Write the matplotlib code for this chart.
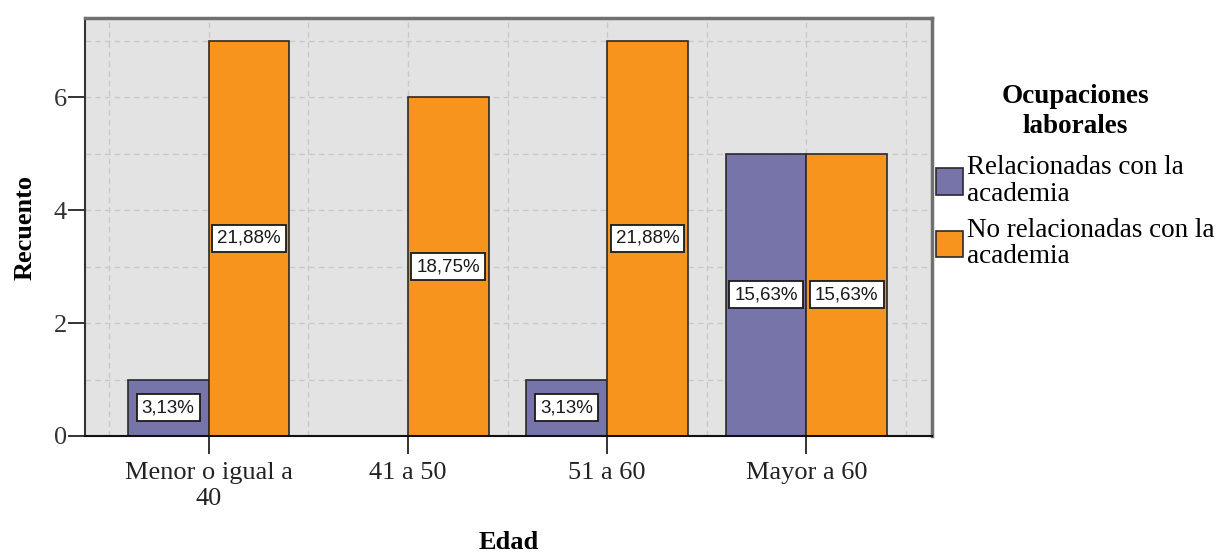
import matplotlib
matplotlib.use("Agg")
import matplotlib.pyplot as plt
from matplotlib.patches import Patch
from decimal import Decimal, ROUND_HALF_UP
import numpy as np

# Age groups and counts per occupation type
categories = ["Menor o igual a\n40", "41 a 50", "51 a 60", "Mayor a 60"]
relacionadas = [1, 0, 1, 5]
no_relacionadas = [7, 6, 7, 5]
series_names = ["Relacionadas con la\nacademia", "No relacionadas con la\nacademia"]
legend_title = "Ocupaciones\nlaborales"
y_ticks = [0, 2, 4, 6]

PURPLE = "#7674a8"
ORANGE = "#f7941e"
BG = "#e3e3e3"
SERIF = ["Liberation Serif", "DejaVu Serif"]
SANS = ["Liberation Sans", "DejaVu Sans"]

total = sum(relacionadas) + sum(no_relacionadas)


def pct_label(v):
    p = Decimal(v * 100) / Decimal(total)
    p = p.quantize(Decimal("0.01"), rounding=ROUND_HALF_UP)
    return f"{p}%".replace(".", ",")


fig = plt.figure(figsize=(12.21, 5.55), dpi=100)
ax = fig.add_axes([85 / 1221, 1 - 436 / 555, (932 - 85) / 1221, (436 - 18) / 555])
ax.set_facecolor(BG)

x = np.arange(len(categories))
w = 0.405
b1 = ax.bar(x - w / 2, relacionadas, w, color=PURPLE, edgecolor="#2a2a2a", linewidth=1.2, zorder=3)
b2 = ax.bar(x + w / 2, no_relacionadas, w, color=ORANGE, edgecolor="#2a2a2a", linewidth=1.2, zorder=3)

for bars, vals in ((b1, relacionadas), (b2, no_relacionadas)):
    for rect, v in zip(bars, vals):
        if v <= 0:
            continue
        ax.text(rect.get_x() + rect.get_width() / 2, v / 2, pct_label(v),
                ha="center", va="center", fontsize=13.5, family=SANS, color="#1a1a1a",
                zorder=5,
                bbox=dict(boxstyle="square,pad=0.27", facecolor="white",
                          edgecolor="#1a1a1a", linewidth=1.3))

ax.set_xlim(-0.62, 3.63)
ax.set_ylim(0, 7.4)

# dashed reference grid every half category and every unit of count
for gx in np.arange(-0.5, 3.6, 0.5):
    ax.axvline(gx, color="#c9c9c9", linestyle=(0, (4, 3)), linewidth=1.0, zorder=1)
for gy in np.arange(1, 8, 1):
    ax.axhline(gy, color="#c9c9c9", linestyle=(0, (4, 3)), linewidth=1.0, zorder=1)

ax.set_xticks(x)
ax.set_xticklabels(categories, family=SERIF, fontsize=19, color="#222222", linespacing=1.2)
ax.set_yticks(y_ticks)
ax.set_yticklabels([str(t) for t in y_ticks], family=SERIF, fontsize=19, color="#333333")
ax.tick_params(axis="x", length=13, width=1.4, color="#333333", pad=6)
ax.tick_params(axis="y", length=12, width=1.4, color="#333333", pad=1)

for side in ("top", "right"):
    ax.spines[side].set_color("#707070")
    ax.spines[side].set_linewidth(2.5)
ax.spines["left"].set_color("#333333")
ax.spines["left"].set_linewidth(1.5)
ax.spines["bottom"].set_color("#111111")
ax.spines["bottom"].set_linewidth(1.5)
for s in ax.spines.values():
    s.set_zorder(4)

ax.set_xlabel("Edad", family=SERIF, fontsize=19, fontweight="bold", labelpad=15)
ax.set_ylabel("Recuento", family=SERIF, fontsize=19, fontweight="bold", labelpad=12)

LEG_FS = 19.5
handles = [Patch(facecolor=PURPLE, edgecolor="#2a2a2a", linewidth=1.2),
           Patch(facecolor=ORANGE, edgecolor="#2a2a2a", linewidth=1.2)]
leg = fig.legend(handles, series_names, title=legend_title,
                 loc="upper left", bbox_to_anchor=(936 / 1221, 1 - 84 / 555),
                 frameon=False, prop={"family": SERIF, "size": LEG_FS},
                 title_fontproperties={"family": SERIF, "size": 19.5, "weight": "bold"},
                 handlelength=1.0, handleheight=1.15, handletextpad=0.15,
                 labelspacing=0.42, borderpad=0, borderaxespad=0,
                 alignment="center")
for t in leg.get_texts():
    t.set_linespacing(1.08)
title = leg.get_title()
title.set_linespacing(1.25)
title.set_multialignment("center")
# spacing between the title and the entries
leg._legend_box.sep = 0.6 * LEG_FS

fig.savefig("out.png", dpi=100)
